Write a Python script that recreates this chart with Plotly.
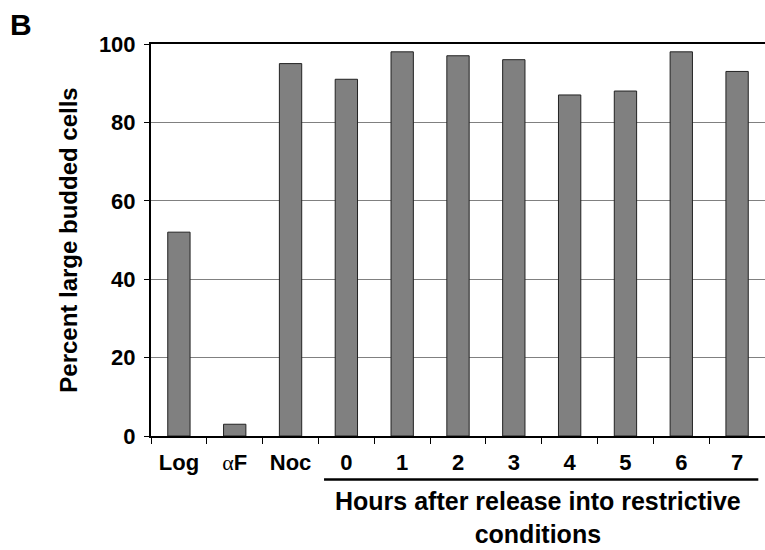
import plotly.graph_objects as go

categories = ["Log", "αF", "Noc", "0", "1", "2", "3", "4", "5", "6", "7"]
tick_labels = ["Log", "<span style='font-family:Liberation Serif;font-weight:normal'>α</span>F",
               "Noc", "0", "1", "2", "3", "4", "5", "6", "7"]
values = [52, 3, 95, 91, 98, 97, 96, 87, 88, 98, 93]
y_ticks = [0, 20, 40, 60, 80, 100]

FONT = "Liberation Sans"

fig = go.Figure()
fig.add_trace(go.Bar(
    x=categories, y=values, width=0.4,
    marker=dict(color="#808080", line=dict(color="#222222", width=1)),
))

fig.update_layout(
    width=765, height=550,
    margin=dict(l=151, r=0, t=44, b=114),
    paper_bgcolor="white", plot_bgcolor="white",
    showlegend=False,
    font=dict(family=FONT, color="black", size=22),
)
fig.update_xaxes(
    type="category", range=[-0.5, 10.5],
    tickmode="array", tickvals=categories, ticktext=tick_labels,
    tickson="boundaries", ticks="outside", ticklen=6, tickwidth=1, tickcolor="black",
    showline=True, linecolor="black", linewidth=2, mirror=True,
    showgrid=False,
    tickfont=dict(family=FONT, size=22, color="black", weight="bold"),
    ticklabelstandoff=6,
)
fig.update_yaxes(
    range=[0, 100], tickmode="array", tickvals=y_ticks,
    ticks="outside", ticklen=5, tickwidth=1, tickcolor="black",
    showline=True, linecolor="black", linewidth=2,
    showgrid=True, gridcolor="#808080", gridwidth=1,
    zeroline=False,
    tickfont=dict(family=FONT, size=22, color="black", weight="bold"),
    ticklabelstandoff=4,
    title=dict(text="<b>Percent large budded cells</b>", font=dict(family=FONT, size=24), standoff=14),
)

fig.add_shape(type="line", xref="x", yref="paper", x0=2.6, x1=10.38, y0=-0.111, y1=-0.111,
              line=dict(color="black", width=2.5))
fig.add_annotation(x=6.43, xref="x", y=-0.125, yref="paper", yanchor="top",
                   text="<b>Hours after release into restrictive<br>conditions</b>",
                   showarrow=False, font=dict(family=FONT, size=25, color="black"),
                   align="center")
fig.add_annotation(xref="paper", xanchor="left", yref="paper", yanchor="top",
                   x=-151/614 + 8/614, y=1 + (44 - 6) / 392,
                   text="<b>B</b>", showarrow=False, font=dict(family=FONT, size=30))

fig.write_html("out.html")
